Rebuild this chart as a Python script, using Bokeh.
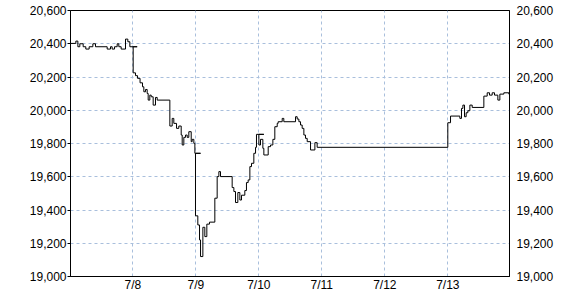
from bokeh.plotting import figure
from bokeh.models import Range1d, LinearAxis, FixedTicker, NumeralTickFormatter, ColumnDataSource
from bokeh.embed import file_html
from bokeh.resources import INLINE

# time in days since 7/7 00:00, price values (stepped)
t = [0.011, 0.096, 0.128, 0.159, 0.212, 0.254, 0.307, 0.366, 0.408, 0.593, 0.646, 0.672,
     0.710, 0.752, 0.778, 0.815, 0.884, 0.921, 0.953, 1.069,
     1.006, 1.043, 1.075, 1.115, 1.154, 1.175, 1.202, 1.228, 1.244, 1.270, 1.292, 1.323,
     1.360, 1.387, 1.588, 1.625, 1.651, 1.694, 1.730, 1.768, 1.784, 1.810, 1.837, 1.863,
     1.889, 1.927, 1.942, 1.969, 1.985, 2.075,
     1.995, 2.032, 2.059, 2.075, 2.112, 2.143, 2.175, 2.217, 2.302, 2.339, 2.366, 2.392,
     2.577, 2.604, 2.630, 2.667, 2.699, 2.725, 2.778, 2.804, 2.831, 2.858, 2.884, 2.921,
     2.948, 2.963, 3.080,
     3.001, 3.027, 3.064, 3.080, 3.149, 3.186, 3.223, 3.254, 3.292, 3.307, 3.371, 3.397,
     3.583, 3.609, 3.636, 3.662, 3.688, 3.715, 3.741, 3.768, 3.821, 3.890, 3.926,
     6.000, 6.043, 6.191, 6.217, 6.239, 6.265, 6.291, 6.318, 6.350, 6.387, 6.572, 6.625,
     6.662, 6.704, 6.741, 6.794, 6.826, 6.889, 6.969, 6.979]
v = [20402, 20416, 20382, 20400, 20382, 20368, 20382, 20400, 20382, 20368, 20382, 20368,
     20382, 20400, 20382, 20368, 20428, 20412, 20382, 20382,
     20225, 20208, 20192, 20165, 20141, 20111, 20125, 20101, 20061, 20091, 20081, 20031,
     20077, 20061, 19905, 19951, 19921, 19891, 19905, 19851, 19791, 19837, 19851, 19837,
     19871, 19811, 19825, 19801, 19741, 19741,
     19365, 19310, 19220, 19120, 19296, 19240, 19315, 19327, 19471, 19601, 19631, 19601,
     19535, 19511, 19445, 19505, 19460, 19489, 19517, 19565, 19581, 19661, 19681, 19741,
     19777, 19855, 19855,
     19791, 19825, 19771, 19731, 19781, 19791, 19825, 19901, 19921, 19931, 19951, 19931,
     19961, 19947, 19931, 19911, 19891, 19851, 19831, 19811, 19761, 19805, 19777,
     19925, 19965, 19951, 20011, 20031, 19961, 19985, 19997, 20031, 20017, 20085, 20105,
     20091, 20105, 20091, 20061, 20097, 20105, 20097, 20097]

x_ticks = [1, 2, 3, 4, 5, 6]
x_labels = ["7/8", "7/9", "7/10", "7/11", "7/12", "7/13"]
y_ticks = [19000, 19200, 19400, 19600, 19800, 20000, 20200, 20400, 20600]

FONT = "Liberation Sans"

p = figure(width=580, height=300, output_backend="svg", toolbar_location=None,
           x_range=Range1d(0.011, 6.979), y_range=Range1d(19000, 20600),
           min_border_left=70, min_border_right=71, min_border_top=10, min_border_bottom=24)
p.background_fill_color = "white"
p.border_fill_color = "white"
p.outline_line_color = "black"
p.outline_line_width = 1
p.outline_line_alpha = 1

src = ColumnDataSource(dict(t=t, v=v))
p.step(x="t", y="v", mode="after", source=src, line_color="black", line_width=1)

# x axis
p.xaxis.ticker = FixedTicker(ticks=x_ticks)
p.xaxis.major_label_overrides = {k: lab for k, lab in zip(x_ticks, x_labels)}
p.xaxis.major_tick_out = 0
p.xaxis.major_tick_in = 0
p.xaxis.minor_tick_line_color = None
p.xaxis.major_label_standoff = 1
p.xaxis.axis_line_color = "black"
p.xaxis.major_label_text_font = FONT
p.xaxis.major_label_text_font_size = "12px"
p.xaxis.major_label_text_color = "black"

# left y axis
p.yaxis.ticker = FixedTicker(ticks=y_ticks)
p.yaxis.formatter = NumeralTickFormatter(format="0,0")
p.yaxis.major_tick_out = 3
p.yaxis.major_tick_in = 0
p.yaxis.major_tick_line_color = "black"
p.yaxis.minor_tick_line_color = None
p.yaxis.major_label_standoff = 1
p.yaxis.axis_line_color = "black"
p.yaxis.major_label_text_font = FONT
p.yaxis.major_label_text_font_size = "12px"
p.yaxis.major_label_text_color = "black"

# right y axis
ra = LinearAxis(ticker=FixedTicker(ticks=y_ticks), formatter=NumeralTickFormatter(format="0,0"))
ra.major_tick_out = 0
ra.major_tick_in = 0
ra.minor_tick_line_color = None
ra.major_label_standoff = 7
ra.axis_line_color = "black"
ra.major_label_text_font = FONT
ra.major_label_text_font_size = "12px"
ra.major_label_text_color = "black"
p.add_layout(ra, "right")

# grids
p.xgrid.grid_line_color = "#a9bfdc"
p.xgrid.grid_line_dash = "3 3"
p.ygrid.grid_line_color = "#a9bfdc"
p.ygrid.grid_line_dash = "3 3"

open("out.html", "w").write(file_html(p, INLINE))
